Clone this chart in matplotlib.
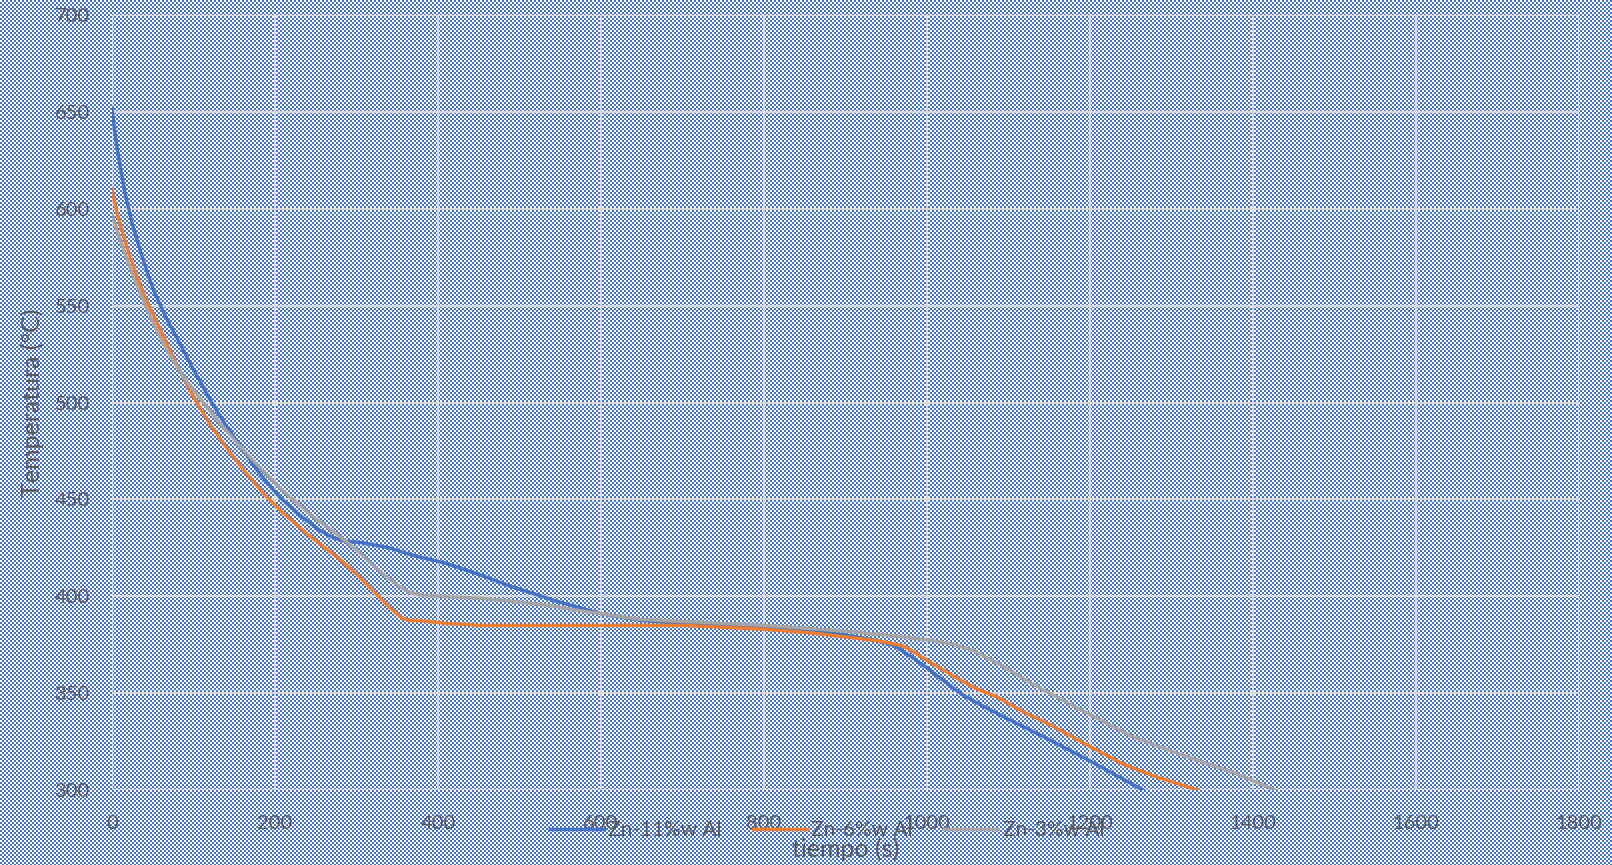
import numpy as np
import matplotlib
matplotlib.use("Agg")
import matplotlib.pyplot as plt

plt.rcParams['font.family'] = ['Lato', 'DejaVu Sans']

# curve readings, time (s) vs temperature (C)
t_zn11 = [0, 3, 6, 10, 16, 25, 35, 45, 52, 65, 80, 100, 121, 140, 160, 180, 206, 230, 255, 270,
          285, 308, 340, 370, 410, 452, 490, 520, 545, 566, 600, 650, 700, 800, 850, 900, 940,
          960, 980, 1000, 1020, 1044, 1070, 1100, 1150, 1200, 1265]
T_zn11 = [652, 641, 632, 622, 608, 592, 578, 565, 557, 545, 533, 517, 501, 488, 476, 464, 451, 442, 434, 430.5,
          428.5, 427.6, 425, 421, 417, 411, 405, 401, 397.5, 395, 391, 387.5, 386, 384, 382.5, 380, 377,
          374.5, 369, 363, 356.5, 349, 343, 336.5, 326, 315, 300]

t_zn6 = [0, 5, 10, 20, 30, 40, 50, 60, 80, 100, 120, 140, 160, 186, 210, 240, 260, 280, 300, 320,
         340, 355, 365, 378, 411, 450, 574, 700, 800, 860, 900, 940, 970, 985, 1000, 1020, 1040, 1060,
         1086, 1120, 1150, 1200, 1240, 1280, 1332]
T_zn6 = [610, 600, 592, 578, 566, 555, 546, 537, 519, 503, 489, 477, 466, 453, 443, 432, 425.5, 419, 411.5, 403,
         394.5, 389, 387.5, 387.4, 386, 385, 385, 385, 383, 381, 379, 377, 374.5, 371, 367, 362, 357, 352.5,
         348, 340, 334, 322.5, 313.5, 307, 300]

t_zn3 = [0, 10, 20, 30, 40, 55, 70, 90, 112, 135, 160, 185, 206, 230, 250, 270, 288, 305, 320, 340,
         353, 365, 382, 420, 452, 500, 540, 566, 600, 650, 700, 800, 900, 950, 1000, 1030, 1057,
         1075, 1093, 1120, 1159, 1200, 1250, 1300, 1376, 1427]
T_zn3 = [597, 584, 572, 561, 551, 537, 525, 512, 500, 488, 476, 465, 456, 447, 440, 434, 428, 422, 416, 409,
         405, 402, 400.5, 399.5, 399, 397, 395, 393, 391, 388, 387, 385, 382, 380, 377.5, 375.5, 372,
         368, 364, 357, 348, 339, 328, 320, 309, 300]

W, H = 1612, 865
fig = plt.figure(figsize=(W / 100, H / 100), dpi=100)

# checkered background, 2px cells
yy, xx = np.mgrid[0:H, 0:W]
mask = ((xx // 2) + (yy // 2)) % 2 == 1
bg = np.ones((H, W, 3))
bg[mask] = np.array([68, 114, 196]) / 255
fig.figimage(bg, xo=0, yo=0, origin='upper', zorder=-10)

ax = fig.add_axes([112 / W, 75 / H, 1467 / W, 775 / H])
ax.set_zorder(1)
ax.set_facecolor('none')
for s in ax.spines.values():
    s.set_visible(False)

ax.plot(t_zn11, T_zn11, color='#4472C4', lw=2.5, label='Zn-11%w Al', solid_joinstyle='round')
ax.plot(t_zn6, T_zn6, color='#ED7D31', lw=2.5, label='Zn-6%w Al', solid_joinstyle='round')
ax.plot(t_zn3, T_zn3, color='#A5A5A5', lw=2.5, label='Zn-3%w Al', solid_joinstyle='round')

ax.set_xlim(0, 1800)
ax.set_ylim(300, 700)
ax.set_xticks(np.arange(0, 1801, 200))
ax.set_yticks(np.arange(300, 701, 50))
ax.grid(True, color='#D9D9D9', lw=1.4)
ax.set_axisbelow(True)
ax.tick_params(length=0, labelsize=14.5, labelcolor='#595959')
ax.tick_params(axis='y', pad=16)
ax.tick_params(axis='x', pad=18)

ax.set_xlabel('tiempo (s)', fontsize=18, color='#595959')
ax.xaxis.set_label_coords(0.5, -0.0765)
ax.xaxis.label.set_va('center')
ax.set_ylabel('Temperatura (°C)', fontsize=18, color='#595959')
ax.yaxis.set_label_coords(-0.0545, 0.5)
ax.yaxis.label.set_va('center')

leg = fig.legend(loc='center', bbox_to_anchor=(827 / W, 35 / H), ncol=3, frameon=False,
                 fontsize=15, handlelength=2.6, handletextpad=0.2, columnspacing=1.5)
leg.set_zorder(5)
for txt in leg.get_texts():
    txt.set_color('#595959')

fig.savefig('out.png', dpi=100)
